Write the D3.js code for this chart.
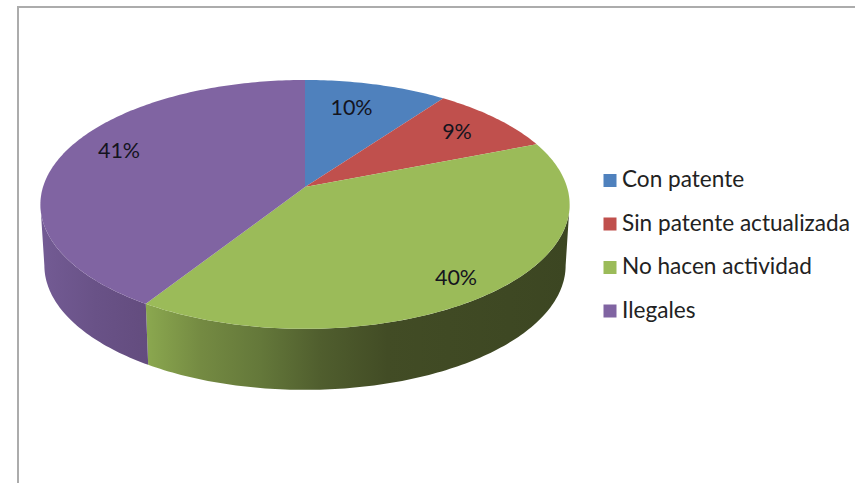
<!DOCTYPE html>
<html><head><meta charset="utf-8">
<script src="https://cdn.jsdelivr.net/npm/d3@7"></script>
<style>html,body{margin:0;padding:0;background:#fff;overflow:hidden}</style>
</head><body><svg id="c" width="855" height="483"></svg>
<script>
const categories = ["Con patente","Sin patente actualizada","No hacen actividad","Ilegales"];
const values = [10,9,40,41];
const colors = ["#4f81bd","#c0504d","#9bbb59","#8064a2"];
const labelAnchors = [[351.5,115],[457,139],[456,285],[119,158]];

const W=855,H=483;
const svg=d3.select("#c");
const cx=305,cy=187,a=262,b=122,k=0.14,depth=61,bottomScale=0.985;
// perspective projection of the unit circle onto the tilted pie top
const project=(t,s=1,dy=0)=>{
  const u=Math.sin(t),v=Math.cos(t),d=1+k*v;
  return [cx+s*a*u/d,cy-b*v/d+dy];
};
const pie=d3.pie().sort(null).value(d=>d)(values);
const line=d3.line();
const samples=(s,e,sc=1,dy=0)=>{
  const n=Math.max(2,Math.ceil((e-s)*60));
  return d3.range(n+1).map(i=>project(s+(e-s)*i/n,sc,dy));
};
const defs=svg.append("defs");
const addGrad=(id,stops,x1,x2)=>{
  const g=defs.append("linearGradient").attr("id",id).attr("gradientUnits","userSpaceOnUse")
    .attr("x1",x1).attr("x2",x2).attr("y1",0).attr("y2",0);
  stops.forEach(s=>g.append("stop").attr("offset",s[0]).attr("stop-color",s[1]));
};
addGrad("gGreen",[[0,"#8ba84f"],[0.13,"#748a42"],[0.27,"#64783a"],[0.41,"#505e2e"],[0.57,"#424c25"],[1,"#3c4622"]],146,570);
addGrad("gPurple",[[0,"#735b94"],[0.5,"#695287"],[1,"#634c7e"]],41,150);

// frame
svg.append("path").attr("d","M18,483V7H855").attr("fill","none").attr("stroke","#acacac").attr("stroke-width",2);

// side walls: only between the silhouette tangent angles of the projected circle
const tangent=Math.asin(k);
const sideFill={2:"url(#gGreen)",3:"url(#gPurple)"};
pie.forEach((p,i)=>{
  const lo=Math.max(p.startAngle,Math.PI/2+tangent),hi=Math.min(p.endAngle,3*Math.PI/2-tangent);
  if(hi<=lo||!sideFill[i])return;
  const top=samples(lo,hi),bot=samples(lo,hi,bottomScale,depth).reverse();
  svg.append("path").attr("d",line(top.concat(bot))+"Z").attr("fill",sideFill[i]);
});
// top face
pie.forEach((p,i)=>{
  const pts=[[cx,cy]].concat(samples(p.startAngle,p.endAngle));
  svg.append("path").attr("d",line(pts)+"Z").attr("fill",colors[i]);
});
// data labels
values.forEach((v,i)=>{
  svg.append("text").attr("x",labelAnchors[i][0]).attr("y",labelAnchors[i][1]).attr("text-anchor","middle")
    .attr("font-family","Lato").attr("font-size",21.5).attr("fill","#14141e").text(v+"%");
});
// legend
const ly=d3.scalePoint().domain(categories).range([180.5,311]);
categories.forEach((c,i)=>{
  const y=ly(c);
  svg.append("rect").attr("x",603.5).attr("y",y-6.5).attr("width",13).attr("height",13).attr("fill",colors[i]);
  svg.append("text").attr("x",622).attr("y",y+6.5).attr("font-family","Lato").attr("font-size",22.6)
    .attr("fill","#222").text(c);
});
</script></body></html>
